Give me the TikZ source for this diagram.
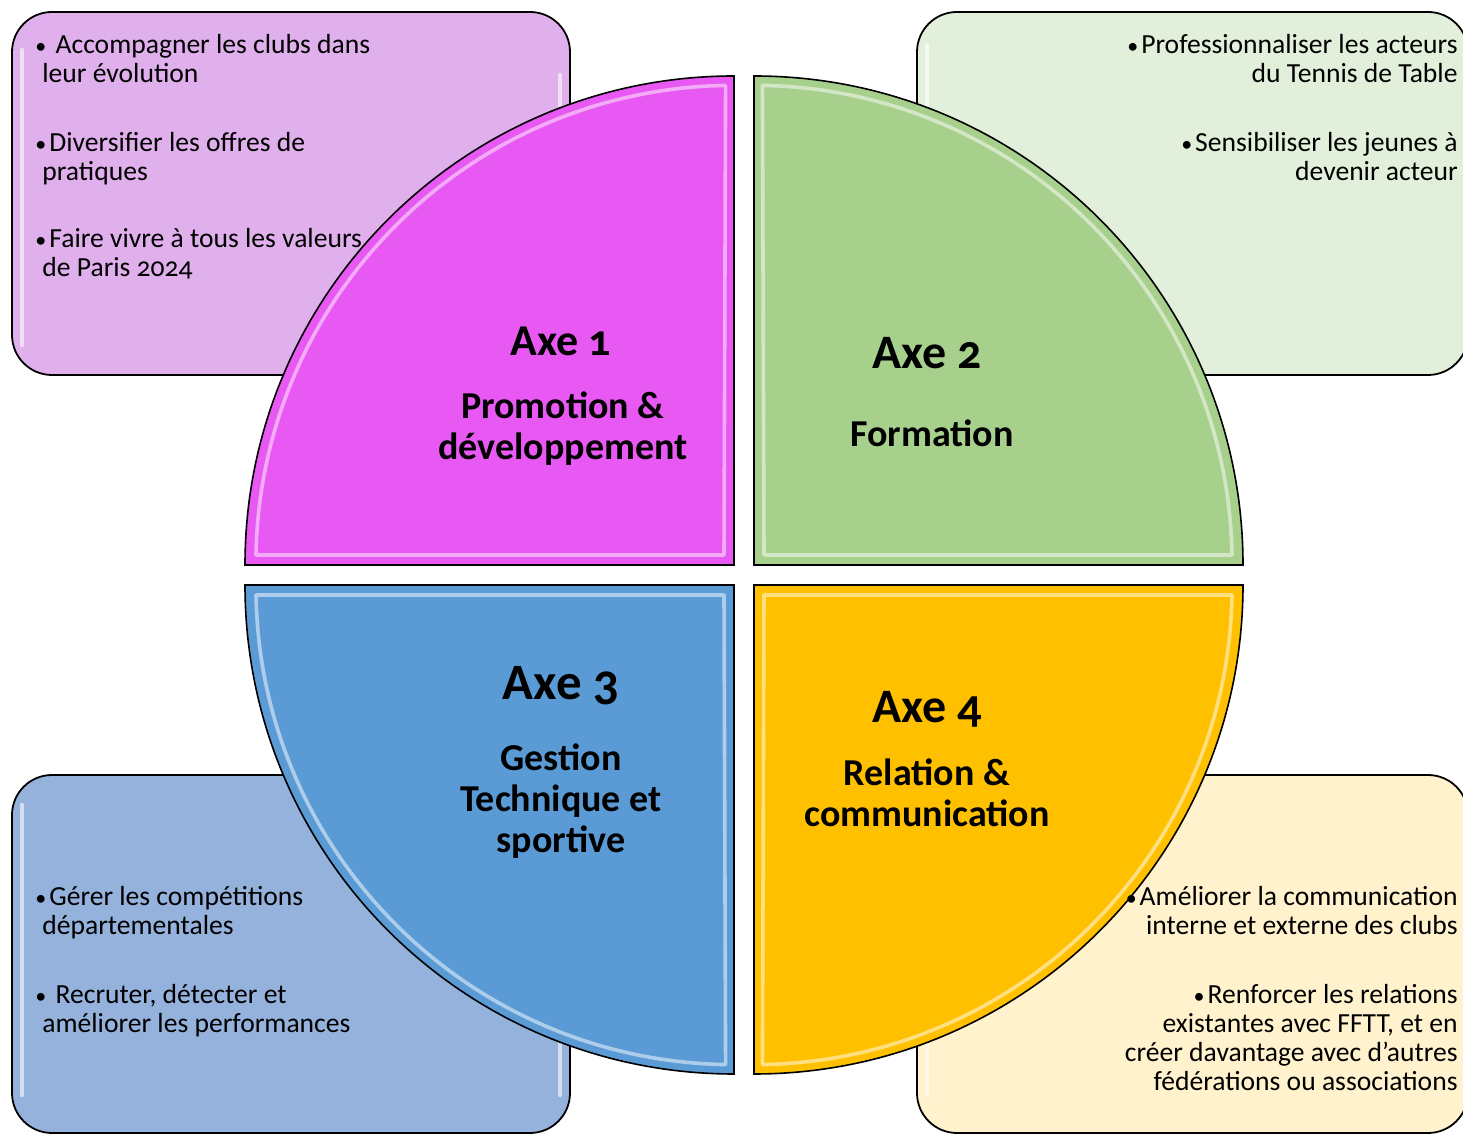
\documentclass[tikz,border=0pt]{standalone}
\usepackage{fontspec}
\setmainfont{Carlito}[Numbers=OldStyle]
\definecolor{qone}{RGB}{232,88,242}
\definecolor{qtwo}{RGB}{168,208,141}
\definecolor{qthree}{RGB}{91,155,213}
\definecolor{qfour}{RGB}{255,192,0}
\definecolor{bone}{RGB}{224,176,236}
\definecolor{btwo}{RGB}{226,239,218}
\definecolor{bthree}{RGB}{149,178,220}
\definecolor{bfour}{RGB}{255,242,204}
\newcommand{\quadpath}{(0,0) -- (-489,0) arc[start angle=180,end angle=90,radius=489] -- cycle}
\newcommand{\quadgloss}{(-10,10) -- (-478,10) arc[start angle=179,end angle=91,radius=478] -- cycle}
\newcommand{\bul}{{\fontsize{11}{11}\selectfont•}\hspace{1.5pt}}
\begin{document}
\begin{tikzpicture}[x=0.5pt,y=0.5pt,
  box/.style={draw=black,line width=0.9pt,rounded corners=20pt},
  vgloss/.style={draw=white,line width=2.2pt,opacity=0.6,line cap=round},
  quad/.style={draw=black,line width=0.8pt},
  qgloss/.style={draw=white,line width=1.8pt,opacity=0.5,line join=bevel},
  itemtxt/.style={font=\fontsize{13.8}{14.6}\selectfont,inner sep=0pt},
  axetitle/.style={font=\bfseries\fontsize{#1}{#1}\selectfont,inner sep=0pt,anchor=base},
  axesub/.style={font=\bfseries\fontsize{19}{20.6}\selectfont,inner sep=0pt,align=center,anchor=base}]
\useasboundingbox (0,0) rectangle (1463,1135);
% side boxes
\path[box,fill=bone] (12,760) rectangle (570,1123);
\draw[vgloss] (22,790) -- (22,1085);
\draw[vgloss] (560,790) -- (560,1060);
\path[box,fill=btwo] (917,760) rectangle (1468,1123);
\draw[vgloss] (927,800) -- (927,1090);
\path[box,fill=bthree] (12,2) rectangle (570,360);
\draw[vgloss] (22,40) -- (22,330);
\draw[vgloss] (560,40) -- (560,200);
\path[box,fill=bfour] (917,2) rectangle (1468,360);
\draw[vgloss] (927,40) -- (927,330);
% quadrants
\begin{scope}[shift={(734,570)}]
  \path[quad,fill=qone] \quadpath;
  \draw[qgloss] \quadgloss;
\end{scope}
\begin{scope}[shift={(754,570)},xscale=-1]
  \path[quad,fill=qtwo] \quadpath;
  \draw[qgloss] \quadgloss;
\end{scope}
\begin{scope}[shift={(734,550)},yscale=-1]
  \path[quad,fill=qthree] \quadpath;
  \draw[qgloss] \quadgloss;
\end{scope}
\begin{scope}[shift={(754,550)},xscale=-1,yscale=-1]
  \path[quad,fill=qfour] \quadpath;
  \draw[qgloss] \quadgloss;
\end{scope}
% box texts (anchor = baseline of last line)
\node[itemtxt,anchor=base west,align=left] (t1a) at (42,1052) {\hspace*{-3.5pt}\bul\ Accompagner les clubs dans\\leur évolution};
\node[itemtxt,anchor=base west,align=left] (t1b) at (42,954) {\hspace*{-3.5pt}\bul Diversifier les offres de\\pratiques};
\node[itemtxt,anchor=base west,align=left] (t1c) at (42,858) {\hspace*{-3.5pt}\bul Faire vivre à tous les valeurs\\de Paris 2024};
\node[itemtxt,anchor=base east,align=right] (t2a) at (1458,1052) {\bul Professionnaliser les acteurs\\du Tennis de Table};
\node[itemtxt,anchor=base east,align=right] (t2b) at (1458,954) {\bul Sensibiliser les jeunes à\\devenir acteur};
\node[itemtxt,anchor=base west,align=left] (t3a) at (42,200) {\hspace*{-3.5pt}\bul Gérer les compétitions\\départementales};
\node[itemtxt,anchor=base west,align=left] (t3b) at (42,102) {\hspace*{-3.5pt}\bul\ Recruter, détecter et\\améliorer les performances};
\node[itemtxt,anchor=base east,align=right] (t4a) at (1458,200) {\bul Améliorer la communication\\interne et externe des clubs};
\node[itemtxt,anchor=base east,align=right] (t4b) at (1458,44) {\bul Renforcer les relations\\existantes avec FFTT, et en\\créer davantage avec d’autres\\fédérations ou associations};
% quadrant texts
\node[axetitle=22] (a1) at (561,779) {Axe 1};
\node[axesub] (s1) at (563,675) {Promotion \&\\développement};
\node[axetitle=24] (a2) at (927,766) {Axe 2};
\node[axesub] (s2) at (932,688) {Formation};
\node[axetitle=25.5] (a3) at (561,435) {Axe 3};
\node[axesub] (s3) at (561,282) {Gestion\\Technique et\\sportive};
\node[axetitle=24] (a4) at (927,412) {Axe 4};
\node[axesub] (s4) at (927,308) {Relation \&\\communication};
\end{tikzpicture}
\end{document}
